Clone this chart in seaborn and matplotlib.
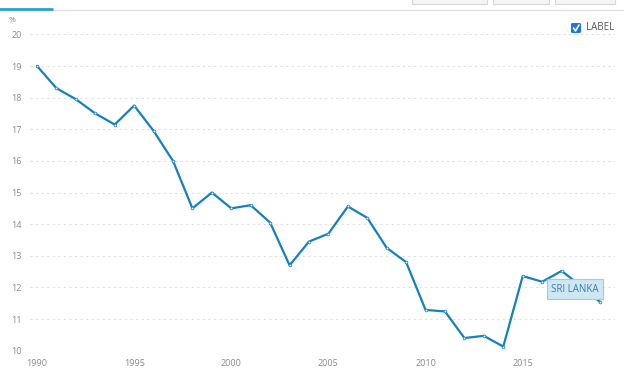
import seaborn as sns
import matplotlib.pyplot as plt
import matplotlib.patches as mpatches
from matplotlib.lines import Line2D
import pandas as pd

# values (percent)
years = list(range(1990, 2020))
values = [19.0, 18.3, 17.95, 17.5, 17.15, 17.75, 16.95, 16.0, 14.5, 15.0,
          14.5, 14.6, 14.05, 12.7, 13.45, 13.7, 14.56, 14.2, 13.25, 12.8,
          11.29, 11.24, 10.4, 10.47, 10.13, 12.36, 12.18, 12.52, 12.05, 11.53]
y_ticks = [10, 11, 12, 13, 14, 15, 16, 17, 18, 19, 20]
x_ticks = [1990, 1995, 2000, 2005, 2010, 2015]
series_name = "SRI LANKA"

df = pd.DataFrame({"year": years, "value": values})

sns.set_style("white")
plt.rcParams['font.family'] = ['Open Sans', 'DejaVu Sans']

blue = "#1380c0"
grey_txt = "#8a8a8a"

fig = plt.figure(figsize=(6.24, 3.74), dpi=100)
ax = fig.add_axes([30 / 624, 1 - 350.7 / 374, 585 / 624, 316.3 / 374])

sns.lineplot(data=df, x="year", y="value", ax=ax, color=blue, linewidth=1.6,
             marker="o", markersize=2.0, markerfacecolor="#dff0fa",
             markeredgecolor=blue, markeredgewidth=0.5, clip_on=False)

ax.set_xlim(1989.64, 2019.75)
ax.set_ylim(10, 20)
ax.set_yticks(y_ticks)
ax.set_xticks(x_ticks)
ax.yaxis.grid(True, linestyle=(0, (2, 3)), color="#e0e0e0", linewidth=0.8)
ax.xaxis.grid(False)
for s in ax.spines.values():
    s.set_visible(False)
ax.tick_params(axis="both", length=0, labelsize=6.5, colors=grey_txt)
ax.tick_params(axis="y", pad=6)
ax.tick_params(axis="x", pad=6)
ax.set_xlabel("")
ax.set_ylabel("")

# unit label
fig.text(9 / 624, 1 - 21 / 374, "%", fontsize=6, color=grey_txt, va="center")

# series label box
ax.text(2017.7, 11.95, series_name, fontsize=7, color="#3a7fa8",
        ha="center", va="center",
        bbox=dict(boxstyle="square,pad=0.45", facecolor="#cfe6f3",
                  edgecolor="#9ccbe4", linewidth=0.8))

# legend checkbox
fig.patches.append(mpatches.FancyBboxPatch((571 / 624, 1 - 33 / 374), 10 / 624, 10 / 374,
                                           boxstyle="round,pad=0,rounding_size=0.003",
                                           transform=fig.transFigure, facecolor="#1a73e8",
                                           edgecolor="none"))
fig.lines.append(Line2D([573.5 / 624, 575.5 / 624, 579 / 624],
                        [1 - 28 / 374, 1 - 31 / 374, 1 - 25 / 374],
                        transform=fig.transFigure, color="white", linewidth=1.2))
fig.text(586 / 624, 1 - 28 / 374, "LABEL", fontsize=7, color="#555555", va="center")

# page chrome at the top
fig.lines.append(Line2D([0, 1], [1 - 10 / 374, 1 - 10 / 374], transform=fig.transFigure,
                        color="#e3e3e3", linewidth=1))
fig.lines.append(Line2D([0, 52 / 624], [1 - 9 / 374, 1 - 9 / 374], transform=fig.transFigure,
                        color="#2a9fd8", linewidth=2))
for x0, x1 in [(412, 487), (493, 549), (555, 615)]:
    fig.patches.append(mpatches.Rectangle((x0 / 624, 1 - 4 / 374), (x1 - x0) / 624, 6 / 374,
                                          transform=fig.transFigure, facecolor="#f4f4f4",
                                          edgecolor="#d8d8d8", linewidth=0.8))

fig.savefig("out.png", dpi=100)
